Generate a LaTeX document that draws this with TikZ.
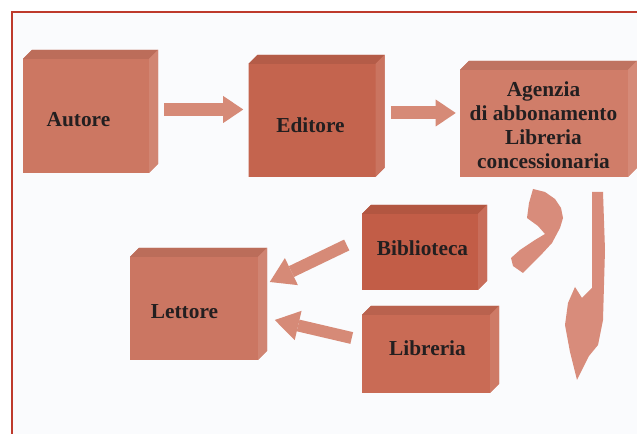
\documentclass[tikz,border=0pt]{standalone}
\usepackage{fontspec}
\setmainfont{Liberation Serif}
\usetikzlibrary{arrows.meta,calc}

\newdimen\pxu \pxu=0.75pt

\definecolor{cornice}{HTML}{BE3A2C}
\definecolor{sfondo}{HTML}{FAFBFD}
\definecolor{testo}{HTML}{231F20}
\definecolor{frecciac}{HTML}{D68A77}
\definecolor{curvac}{HTML}{D88C7B}
\definecolor{autorec}{HTML}{CC7762}
\definecolor{editorec}{HTML}{C4644E}
\definecolor{agenziac}{HTML}{D07D69}
\definecolor{bibliotecac}{HTML}{C25D47}
\definecolor{libreriac}{HTML}{C96B55}
\definecolor{lettorec}{HTML}{CB7662}

\tikzset{
  blok/.style={inner sep=0pt, draw=none,
    path picture={
      \fill[#1] ([yshift=-9\pxu]path picture bounding box.north west) -- ([xshift=9\pxu]path picture bounding box.north west)
        -- (path picture bounding box.north east) -- ([yshift=9\pxu]path picture bounding box.south east)
        -- ([xshift=-9\pxu]path picture bounding box.south east) -- (path picture bounding box.south west) -- cycle;
      \fill[#1!92!black] ([yshift=-9\pxu]path picture bounding box.north west) -- ([xshift=9\pxu]path picture bounding box.north west)
        -- (path picture bounding box.north east) -- ([shift={(-9\pxu,-9\pxu)}]path picture bounding box.north east) -- cycle;
      \fill[#1!90!white] ([shift={(-9\pxu,-9\pxu)}]path picture bounding box.north east) -- (path picture bounding box.north east)
        -- ([yshift=9\pxu]path picture bounding box.south east) -- ([xshift=-9\pxu]path picture bounding box.south east) -- cycle;
    }},
  every label/.style={font=\fontsize{16}{18}\selectfont\bfseries, text=testo, align=center},
  freccia/.style={draw=frecciac, line width=9.75pt, -{Triangle[length=15pt,width=20.25pt,line width=0pt]}},
  diagonale/.style={draw=frecciac, line width=9pt, -{Triangle[length=18pt,width=22.5pt,line width=0pt]}}
}

\begin{document}
\begin{tikzpicture}[x=0.75pt,y=-0.75pt]
  \useasboundingbox (0,0) rectangle (637,434);
  \fill[sfondo] (12,12) rectangle (637,434);
  \draw[cornice, line width=1.5pt] (12,434) -- (12,12) -- (637,12);

  % riga in alto
  \node[blok=autorec, minimum width=135\pxu, minimum height=123\pxu,
        label={[shift={(-12\pxu,-8\pxu)}]center:Autore}] (autore) at (90.5,111.5) {};
  \node[blok=editorec, minimum width=136\pxu, minimum height=122\pxu,
        label={[shift={(-6\pxu,-9\pxu)}]center:Editore}] (editore) at (316.5,116) {};
  \node[blok=agenziac, minimum width=177\pxu, minimum height=116\pxu,
        label={[shift={(-5\pxu,-6\pxu)}]center:Agenzia\\di abbonamento\\Libreria\\concessionaria}] (agenzia) at (548.5,119) {};

  % riga in basso
  \node[blok=bibliotecac, minimum width=125\pxu, minimum height=85\pxu,
        label={[shift={(-2\pxu,-1\pxu)}]center:Biblioteca}] (biblioteca) at (424.5,247.5) {};
  \node[blok=libreriac, minimum width=137\pxu, minimum height=87\pxu,
        label={[shift={(-3\pxu,1\pxu)}]center:Libreria}] (libreria) at (430.5,349.5) {};
  \node[blok=lettorec, minimum width=137\pxu, minimum height=112\pxu,
        label={[shift={(-14\pxu,-8\pxu)}]center:Lettore}] (lettore) at (198.5,304) {};

  % frecce
  \draw[freccia, shorten <=4.5pt, shorten >=3.75pt] ([yshift=1.5pt]autore.east) -- ([yshift=1.5pt]autore.east -| editore.west);
  \draw[freccia, shorten <=4.5pt, shorten >=3pt] ([yshift=2.25pt]editore.east) -- ([yshift=2.25pt]editore.east -| agenzia.west);
  \draw[diagonale] ($(biblioteca.west)+(-15,-2.5)$) -- ($(lettore.east)+(2.5,-22)$);
  \draw[diagonale] ($(libreria.west)+(-10,-11.5)$) -- ($(lettore.east)+(7.5,16)$);

  % pezzi curvi
  \fill[curvac] (533,189) -- (545,192) -- (555,199) -- (561,208) -- (563,218) -- (560,228) -- (552,243) -- (540,256)
    -- (523,273) -- (513,266) -- (511,258) -- (520,250) -- (535,240) -- (545,234) -- (538,226) -- (527,218) -- (529,203) -- cycle;
  \fill[curvac] (592,192) -- (603,192) -- (605,250) -- (603,320) -- (598,345) -- (589,356) -- (577,380)
    -- (570,352) -- (565,325) -- (568,303) -- (575,287) -- (582,298) -- (592,288) -- cycle;
\end{tikzpicture}
\end{document}
